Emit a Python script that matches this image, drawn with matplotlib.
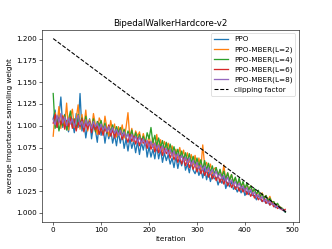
import matplotlib
matplotlib.use("Agg")
import matplotlib.pyplot as plt

iteration = list(range(0, 488, 4))

ppo = [1.108, 1.118, 1.098, 1.111, 1.133,
       1.098, 1.113, 1.102, 1.093, 1.111,
       1.105, 1.092, 1.114, 1.098, 1.137,
       1.094, 1.106, 1.086, 1.101, 1.108,
       1.085, 1.100, 1.095, 1.081, 1.103,
       1.089, 1.099, 1.080, 1.095, 1.085,
       1.096, 1.080, 1.090, 1.077, 1.093,
       1.080, 1.091, 1.074, 1.085, 1.071,
       1.086, 1.074, 1.083, 1.069, 1.082,
       1.067, 1.081, 1.072, 1.084, 1.064,
       1.076, 1.064, 1.073, 1.062, 1.077,
       1.062, 1.073, 1.058, 1.069, 1.060,
       1.067, 1.056, 1.063, 1.052, 1.065,
       1.051, 1.062, 1.054, 1.064, 1.049,
       1.056, 1.046, 1.058, 1.049, 1.045,
       1.052, 1.043, 1.050, 1.040, 1.051,
       1.038, 1.047, 1.036, 1.044, 1.039,
       1.041, 1.032, 1.039, 1.034, 1.042,
       1.028, 1.035, 1.030, 1.036, 1.027,
       1.030, 1.024, 1.029, 1.023, 1.029,
       1.020, 1.025, 1.021, 1.026, 1.020,
       1.020, 1.015, 1.020, 1.016, 1.013,
       1.015, 1.011, 1.013, 1.009, 1.011,
       1.009, 1.006, 1.008, 1.005, 1.005,
       1.003, 1.001]

mber_l2 = [1.088, 1.115, 1.101, 1.122, 1.097,
           1.112, 1.100, 1.126, 1.095, 1.110,
           1.119, 1.098, 1.108, 1.124, 1.096,
           1.113, 1.099, 1.118, 1.094, 1.107,
           1.096, 1.114, 1.101, 1.090, 1.109,
           1.104, 1.092, 1.111, 1.097, 1.088,
           1.106, 1.093, 1.102, 1.087, 1.099,
           1.090, 1.101, 1.086, 1.098, 1.115,
           1.085, 1.097, 1.082, 1.094, 1.088,
           1.093, 1.080, 1.091, 1.083, 1.078,
           1.089, 1.077, 1.086, 1.074, 1.090,
           1.073, 1.084, 1.071, 1.082, 1.075,
           1.080, 1.068, 1.077, 1.066, 1.073,
           1.063, 1.075, 1.064, 1.072, 1.060,
           1.069, 1.058, 1.067, 1.055, 1.066,
           1.053, 1.063, 1.050, 1.078, 1.054,
           1.058, 1.048, 1.056, 1.045, 1.051,
           1.052, 1.042, 1.049, 1.039, 1.055,
           1.037, 1.046, 1.038, 1.044, 1.035,
           1.040, 1.032, 1.038, 1.030, 1.035,
           1.026, 1.033, 1.027, 1.031, 1.024,
           1.027, 1.021, 1.025, 1.019, 1.023,
           1.016, 1.020, 1.014, 1.019, 1.012,
           1.013, 1.009, 1.010, 1.007, 1.006,
           1.004, 1.002]

mber_l4 = [1.137, 1.097, 1.110, 1.094, 1.105,
           1.100, 1.112, 1.095, 1.107, 1.117,
           1.099, 1.108, 1.096, 1.113, 1.102,
           1.109, 1.095, 1.111, 1.099, 1.104,
           1.097, 1.108, 1.093, 1.105, 1.099,
           1.106, 1.094, 1.103, 1.091, 1.100,
           1.093, 1.101, 1.089, 1.099, 1.092,
           1.098, 1.088, 1.096, 1.085, 1.094,
           1.087, 1.095, 1.084, 1.092, 1.083,
           1.090, 1.081, 1.088, 1.079, 1.092,
           1.085, 1.098, 1.080, 1.089, 1.077,
           1.086, 1.075, 1.083, 1.072, 1.081,
           1.070, 1.079, 1.068, 1.076, 1.066,
           1.073, 1.063, 1.071, 1.061, 1.069,
           1.059, 1.068, 1.057, 1.065, 1.055,
           1.063, 1.053, 1.061, 1.050, 1.060,
           1.049, 1.057, 1.046, 1.054, 1.044,
           1.052, 1.043, 1.050, 1.041, 1.048,
           1.039, 1.046, 1.037, 1.044, 1.035,
           1.041, 1.032, 1.040, 1.030, 1.036,
           1.028, 1.034, 1.026, 1.031, 1.024,
           1.028, 1.021, 1.026, 1.019, 1.022,
           1.016, 1.020, 1.014, 1.017, 1.012,
           1.013, 1.009, 1.011, 1.007, 1.006,
           1.004, 1.001]

mber_l6 = [1.103, 1.113, 1.098, 1.109, 1.101,
           1.111, 1.096, 1.106, 1.099, 1.110,
           1.097, 1.107, 1.094, 1.104, 1.099,
           1.108, 1.093, 1.103, 1.096, 1.105,
           1.092, 1.102, 1.095, 1.100, 1.090,
           1.099, 1.089, 1.097, 1.092, 1.101,
           1.088, 1.096, 1.086, 1.094, 1.089,
           1.095, 1.084, 1.092, 1.087, 1.081,
           1.090, 1.082, 1.088, 1.079, 1.086,
           1.077, 1.085, 1.080, 1.083, 1.074,
           1.082, 1.073, 1.079, 1.070, 1.077,
           1.069, 1.076, 1.066, 1.074, 1.068,
           1.072, 1.063, 1.069, 1.061, 1.067,
           1.058, 1.065, 1.056, 1.063, 1.054,
           1.061, 1.052, 1.058, 1.050, 1.056,
           1.047, 1.054, 1.045, 1.051, 1.043,
           1.049, 1.041, 1.047, 1.039, 1.045,
           1.037, 1.043, 1.035, 1.041, 1.033,
           1.039, 1.031, 1.036, 1.029, 1.034,
           1.027, 1.032, 1.025, 1.030, 1.024,
           1.028, 1.021, 1.025, 1.019, 1.023,
           1.017, 1.021, 1.015, 1.018, 1.013,
           1.016, 1.011, 1.014, 1.009, 1.012,
           1.007, 1.009, 1.005, 1.007, 1.004,
           1.003, 1.004]

mber_l8 = [1.107, 1.101, 1.112, 1.104, 1.114,
           1.103, 1.110, 1.100, 1.109, 1.102,
           1.108, 1.099, 1.106, 1.112, 1.101,
           1.105, 1.098, 1.107, 1.100, 1.104,
           1.097, 1.105, 1.099, 1.103, 1.096,
           1.102, 1.095, 1.100, 1.093, 1.099,
           1.092, 1.098, 1.091, 1.096, 1.089,
           1.095, 1.088, 1.093, 1.086, 1.091,
           1.084, 1.090, 1.083, 1.088, 1.081,
           1.087, 1.080, 1.085, 1.078, 1.083,
           1.076, 1.082, 1.075, 1.080, 1.073,
           1.078, 1.071, 1.077, 1.069, 1.074,
           1.067, 1.073, 1.065, 1.071, 1.063,
           1.068, 1.061, 1.066, 1.059, 1.064,
           1.057, 1.063, 1.055, 1.060, 1.053,
           1.058, 1.051, 1.055, 1.049, 1.054,
           1.047, 1.052, 1.045, 1.050, 1.043,
           1.048, 1.041, 1.045, 1.039, 1.043,
           1.036, 1.041, 1.034, 1.038, 1.032,
           1.036, 1.030, 1.034, 1.028, 1.031,
           1.025, 1.029, 1.023, 1.027, 1.021,
           1.024, 1.018, 1.021, 1.016, 1.019,
           1.013, 1.016, 1.011, 1.014, 1.010,
           1.010, 1.007, 1.008, 1.005, 1.005,
           1.003, 1.002]

clip_x = [0, 488]
clip_y = [1.2, 1.0]

labels = ["PPO", "PPO-MBER(L=2)", "PPO-MBER(L=4)", "PPO-MBER(L=6)", "PPO-MBER(L=8)"]
series = [ppo, mber_l2, mber_l4, mber_l6, mber_l8]

fig, ax = plt.subplots(figsize=(6.4, 4.8), dpi=51.875)
for s, lab in zip(series, labels):
    ax.plot(iteration, s, label=lab, linewidth=1.8)
ax.plot(clip_x, clip_y, "k--", label="clipping factor")
ax.set_title("BipedalWalkerHardcore-v2")
ax.set_xlabel("iteration")
ax.set_ylabel("average importance sampling weight")
ax.legend(loc="upper right")
fig.savefig("out.png", dpi=51.875)
